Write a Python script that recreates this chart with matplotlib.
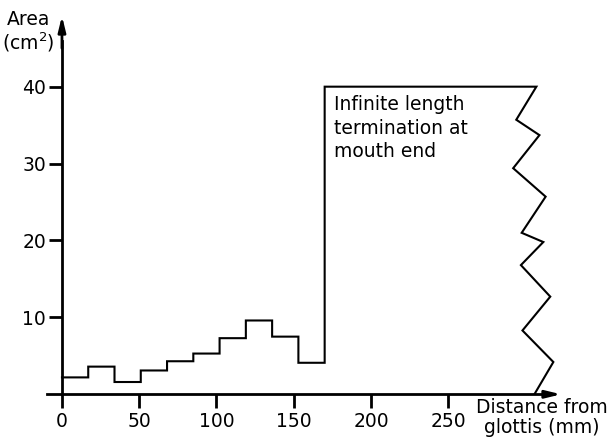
import matplotlib
matplotlib.use("Agg")
import matplotlib.pyplot as plt
import numpy as np

plt.rcParams['font.family'] = ['DejaVu Sans']

# Section boundaries (mm from glottis) and cross-sectional areas (cm^2)
edges = [0, 17, 34, 51, 68, 85, 102, 119, 136, 153, 170]
areas = [2.2, 3.6, 1.6, 3.1, 4.3, 5.3, 7.3, 9.6, 7.5, 4.1]
# Infinite termination: top edge level and zigzag "break" outline
term_area = 40
zig_x = [307, 294, 309, 292, 313, 297.5, 311.5, 297, 316, 298, 318, 306]
zig_y = [40, 35.7, 33.7, 29.4, 25.7, 21.0, 19.8, 16.8, 12.7, 8.3, 4.2, 0.1]

xticks = [0, 50, 100, 150, 200, 250]
yticks = [10, 20, 30, 40]

fig = plt.figure(figsize=(6.11, 4.41), dpi=100)
ax = fig.add_axes([0, 0, 1, 1])
ax.set_xlim(-40.1, 355.3)
ax.set_ylim(-6.07, 51.27)

# Stepped area function
xs, ys = [], []
for i, a in enumerate(areas):
    xs += [edges[i], edges[i + 1]]
    ys += [a, a]
xs += [edges[-1], zig_x[0]]
ys += [term_area, term_area]
xs += zig_x[1:]
ys += zig_y[1:]
ax.plot(xs, ys, color='black', lw=1.5, solid_joinstyle='miter')

# Axes as spines through the origin
for s in ['top', 'right']:
    ax.spines[s].set_visible(False)
ax.spines['bottom'].set_position(('data', 0))
ax.spines['left'].set_position(('data', 0))
ax.spines['bottom'].set_bounds(-9.5, 318)
ax.spines['left'].set_bounds(0, 46)
ax.spines['bottom'].set_linewidth(2.0)
ax.spines['left'].set_linewidth(2.0)

# Arrowheads
ax.annotate('', xy=(323, 0), xytext=(312, 0),
            arrowprops=dict(arrowstyle='-|>,head_length=0.9,head_width=0.22',
                            lw=2.0, color='black', shrinkA=0, shrinkB=0))
ax.annotate('', xy=(0, 49.2), xytext=(0, 45),
            arrowprops=dict(arrowstyle='-|>,head_length=0.9,head_width=0.22',
                            lw=2.0, color='black', shrinkA=0, shrinkB=0))

ax.set_xticks(xticks)
ax.set_xticklabels([str(t) for t in xticks])
ax.set_yticks(yticks)
ax.set_yticklabels([str(t) for t in yticks])
ax.tick_params(axis='x', direction='out', length=10, width=2.0, pad=3, labelsize=13.5)
ax.tick_params(axis='y', direction='out', length=9.5, width=2.0, pad=2, labelsize=13.5)

# Axis labels
ax.text(-21.5, 50.0, 'Area\n(cm$^2$)', ha='center', va='top', fontsize=13.5,
        linespacing=1.1)
ax.text(310.5, -0.5, 'Distance from\nglottis (mm)', ha='center', va='top',
        fontsize=13.5, linespacing=1.05)

# Annotation
ax.text(176, 38.9, 'Infinite length\ntermination at\nmouth end', ha='left',
        va='top', fontsize=13.5, linespacing=1.3)

fig.savefig('out.png', dpi=100)
